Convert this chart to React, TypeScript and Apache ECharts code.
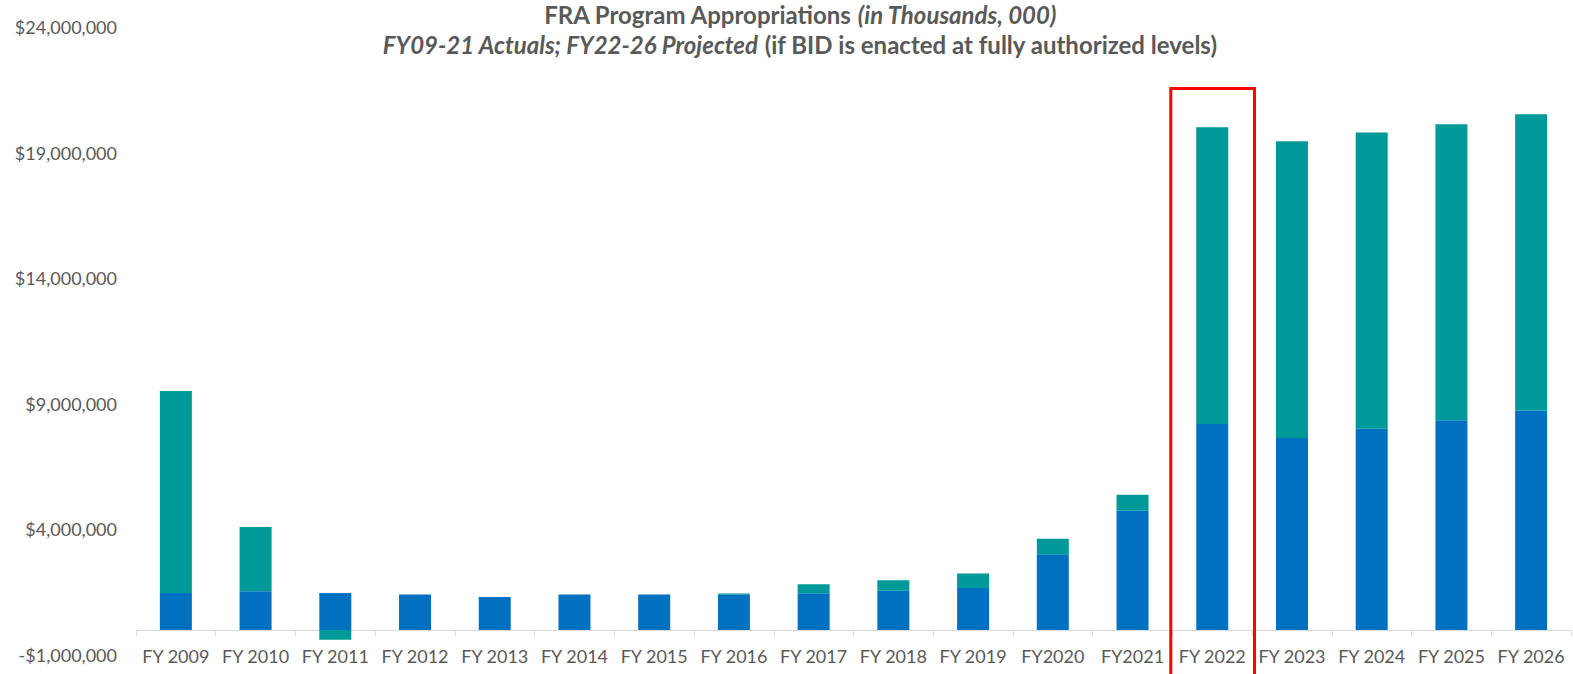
import React, { useEffect, useRef } from 'react';
import * as echarts from 'echarts';

const categories = [
  'FY 2009', 'FY 2010', 'FY 2011', 'FY 2012', 'FY 2013', 'FY 2014', 'FY 2015', 'FY 2016', 'FY 2017',
  'FY 2018', 'FY 2019', 'FY2020', 'FY2021', 'FY 2022', 'FY 2023', 'FY 2024', 'FY 2025', 'FY 2026',
];
const baseFunding = [
  1470000, 1540000, 1470000, 1410000, 1310000, 1410000, 1410000, 1400000, 1460000,
  1560000, 1670000, 3010000, 4740000, 8200000, 7640000, 8010000, 8350000, 8730000,
];
const additionalFunding = [
  8040000, 2560000, -390000, 0, 0, 0, 0, 50000, 360000,
  420000, 570000, 620000, 640000, 11810000, 11810000, 11790000, 11780000, 11800000,
];
const yTickValues = [-1000000, 4000000, 9000000, 14000000, 19000000, 24000000];
const highlightCategory = 'FY 2022';
const highlightTopValue = 21550000;

const FONT = 'Lato, "Open Sans", sans-serif';
const GRAY = '#595959';

function formatDollar(v: number): string {
  const s = String(Math.round(Math.abs(v))).replace(/\B(?=(\d{3})+(?!\d))/g, ',');
  return (v < 0 ? '-' : '') + '$' + s;
}

export default function App() {
  const ref = useRef<HTMLDivElement>(null);
  useEffect(() => {
    if (!ref.current) return;
    const chart = echarts.init(ref.current, null, { renderer: 'svg' });
    const rich = {
      b: { fontFamily: FONT, fontWeight: 'bold', fontSize: 24, color: GRAY },
      bi: { fontFamily: FONT, fontWeight: 'bold', fontStyle: 'italic', fontSize: 24, color: GRAY },
    };
    chart.setOption({
      animation: false,
      backgroundColor: '#ffffff',
      title: [
        {
          left: 800, top: 2, padding: 0, textAlign: 'center',
          text: '{b|FRA Program Appropriations }{bi|(in Thousands, 000)}',
          textStyle: { rich },
        },
        {
          left: 800, top: 32, padding: 0, textAlign: 'center',
          text: '{bi|FY09-21 Actuals; FY22-26 Projected}{b| (if BID is enacted at fully authorized levels)}',
          textStyle: { rich },
        },
      ],
      grid: { left: 136, right: 2, top: 27, bottom: 19, containLabel: false, outerBoundsMode: 'none' },
      xAxis: {
        type: 'category',
        data: categories,
        axisLine: { onZero: true, lineStyle: { color: '#d9d9d9', width: 1 } },
        axisTick: { show: true, length: 6, lineStyle: { color: '#d9d9d9' } },
        axisLabel: { interval: 0, color: GRAY, fontFamily: FONT, fontSize: 18, margin: -8 },
      },
      yAxis: {
        type: 'value',
        min: -1000000,
        max: 24000000,
        splitLine: { show: false },
        axisLine: { show: false },
        axisTick: { show: false },
        axisLabel: {
          customValues: yTickValues,
          color: GRAY, fontFamily: FONT, fontSize: 18, margin: 19,
          formatter: (v: number) => formatDollar(v),
        },
      },
      series: [
        {
          name: 'Base', type: 'bar', stack: 'total', data: baseFunding,
          barWidth: 32, itemStyle: { color: '#0070C0' },
        },
        {
          name: 'Additional', type: 'bar', stack: 'total', data: additionalFunding,
          barWidth: 32, itemStyle: { color: '#009999' },
        },
      ],
    });
    const cx = chart.convertToPixel({ xAxisIndex: 0 }, highlightCategory) as number;
    const x1 = chart.convertToPixel({ xAxisIndex: 0 }, categories[categories.indexOf(highlightCategory) + 1]) as number;
    const band = x1 - cx;
    const topY = chart.convertToPixel({ yAxisIndex: 0 }, highlightTopValue) as number;
    chart.setOption({
      graphic: [
        {
          type: 'rect',
          shape: { x: cx - band * 0.52, y: topY, width: band * 1.05, height: 700 },
          style: { fill: 'none', stroke: '#FF0000', lineWidth: 3 },
          z: 100,
        },
      ],
    });
    return () => chart.dispose();
  }, []);
  return (
    <div
      ref={ref}
      style={{ position: 'absolute', left: 0, top: 0, width: 1573, height: 674, background: '#fff' }}
    />
  );
}
